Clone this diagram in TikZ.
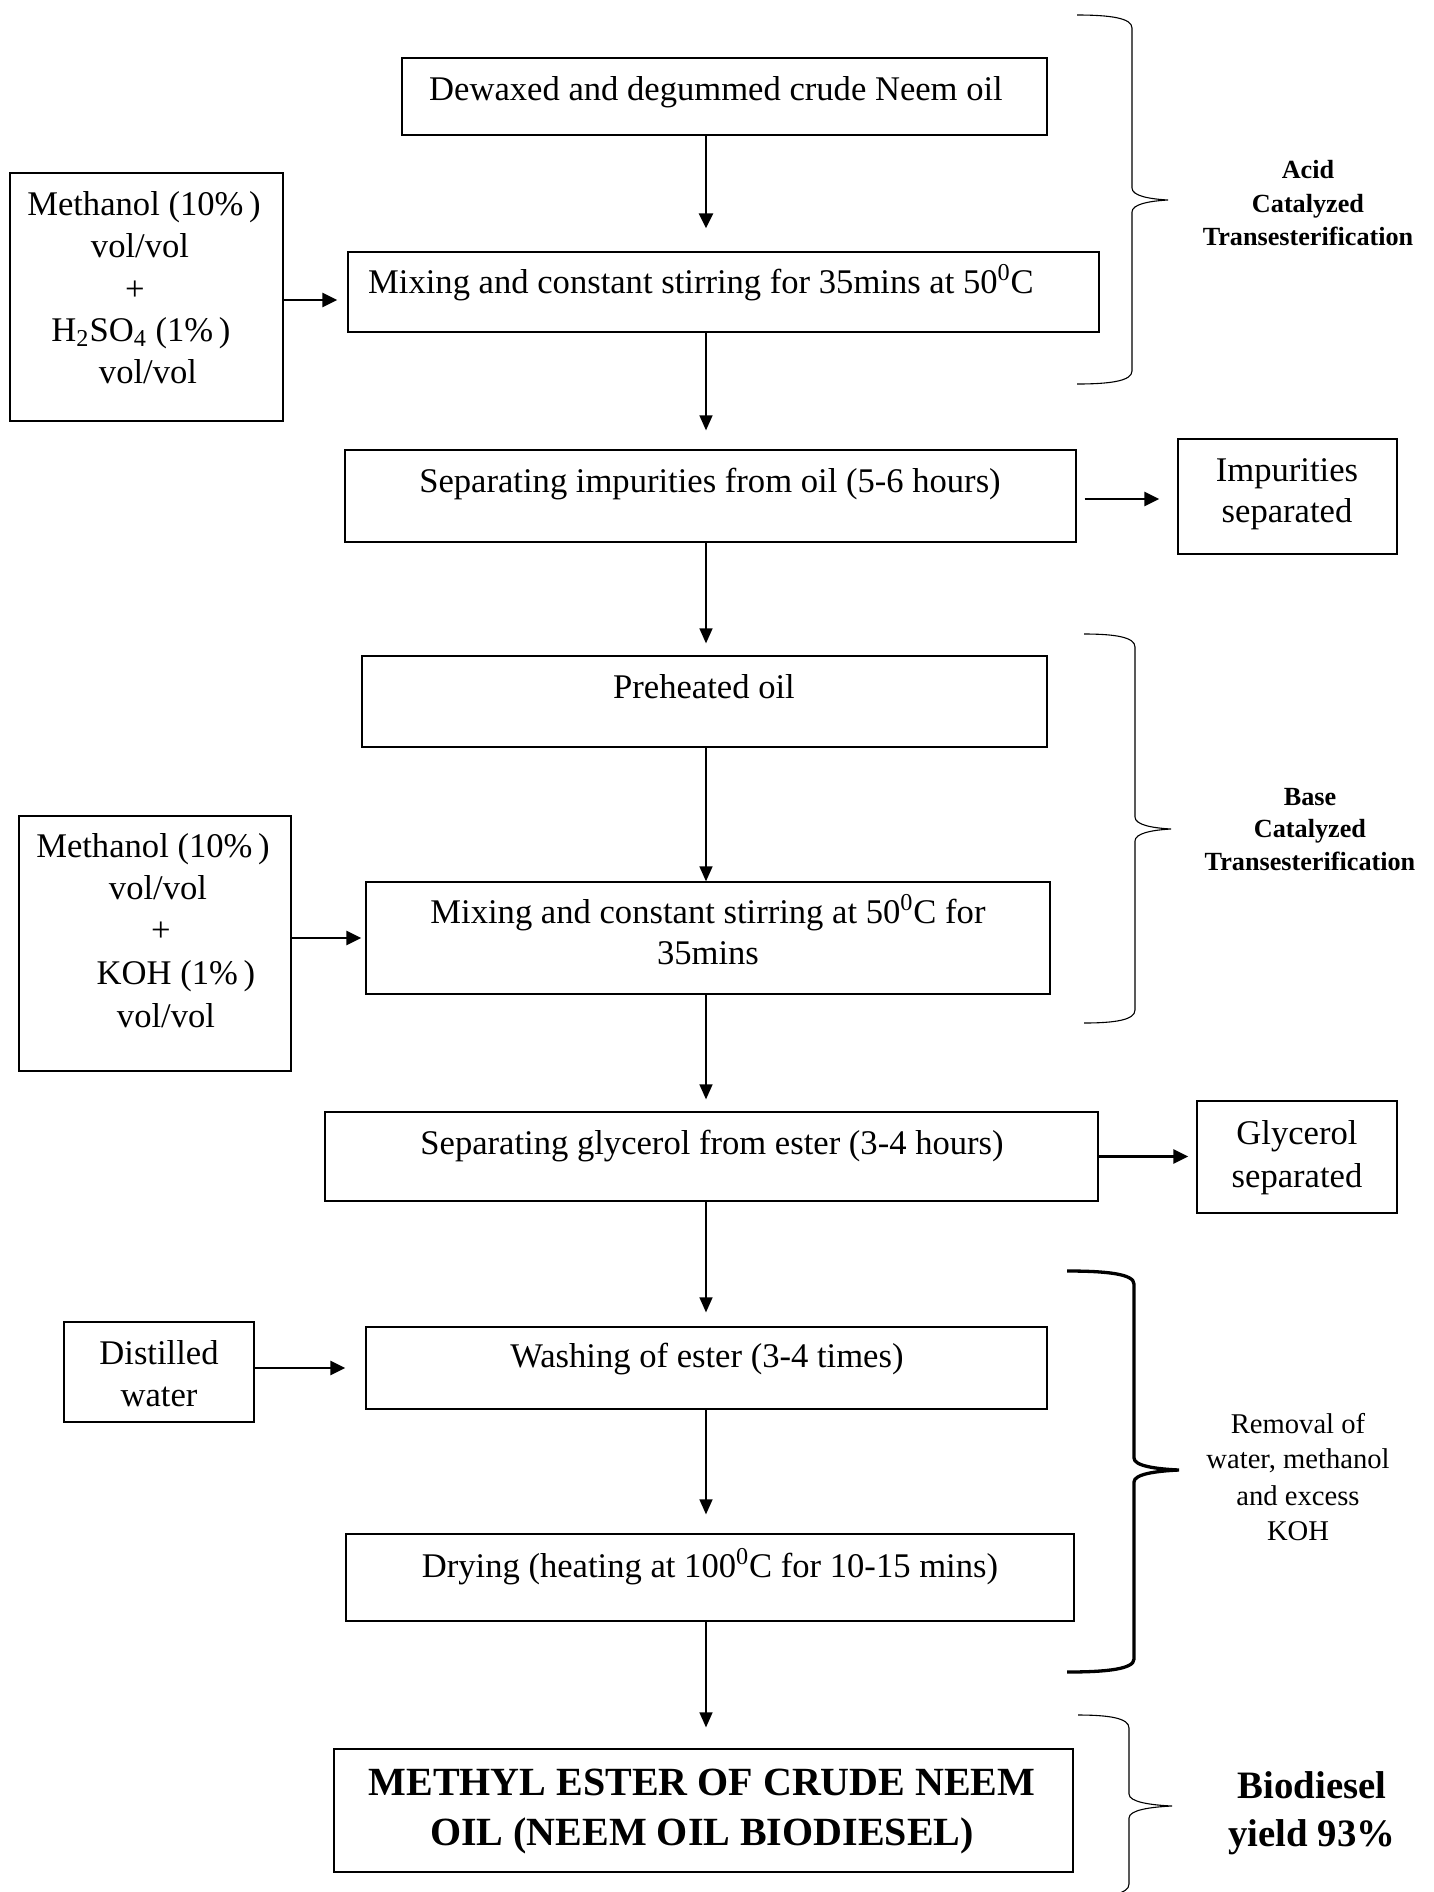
\documentclass[tikz,border=0pt]{standalone}
\usepackage{fontspec}
\setmainfont{Liberation Serif}
\usetikzlibrary{arrows.meta,fit}
\newcommand\mybrace[7]{%
 \draw[#1] (#2,#5) .. controls ({#2+0.6*(#3-#2)},#5) and (#3,#5+3) .. (#3,#5+13)
   -- (#3,#6-12) .. controls (#3,#6-4) and ({#3+0.5*(#4-#3)},#6-1) .. (#4,#6)
   .. controls ({#3+0.5*(#4-#3)},#6+1) and (#3,#6+4) .. (#3,#6+12)
   -- (#3,#7-13) .. controls (#3,#7-3) and ({#2+0.6*(#3-#2)},#7) .. (#2,#7);}
\begin{document}
\begin{tikzpicture}[x=0.5pt,y=-0.5pt,
  box/.style={draw, line width=0.65pt, inner sep=0pt},
  txt/.style={anchor=base, inner sep=0pt, font=\fontsize{17.3}{21}\selectfont},
  lab/.style={anchor=base, inner sep=0pt, font=\fontsize{13.1}{16}\selectfont\bfseries},
  rem/.style={anchor=base, inner sep=0pt, font=\fontsize{14.3}{18}\selectfont},
  bigfont/.style={anchor=base, inner sep=0pt, font=\fontsize{19.4}{24}\selectfont\bfseries},
  finfont/.style={anchor=base, inner sep=0pt, font=\fontsize{20}{25}\selectfont\bfseries},
  arrthin/.style={line width=0.7pt, -{Triangle[length=7.5pt,width=6.5pt]}},
  arrthick/.style={line width=1.35pt, -{Triangle[length=7.5pt,width=7pt]}},
  brace/.style={line width=0.55pt},
  bbrace/.style={line width=1.65pt},
]
\useasboundingbox (0,0) rectangle (1434,1892);

% boxes
\node[box, fit={(402,58)(1047,135)}] (dew) {};
\node[box, fit={(10,173)(283,421)}] (meth1) {};
\node[box, fit={(348,252)(1099,332)}] (mix1) {};
\node[box, fit={(345,450)(1076,542)}] (sep1) {};
\node[box, fit={(1178,439)(1397,554)}] (imp) {};
\node[box, fit={(362,656)(1047,747)}] (pre) {};
\node[box, fit={(19,816)(291,1071)}] (meth2) {};
\node[box, fit={(366,882)(1050,994)}] (mix2) {};
\node[box, fit={(325,1112)(1098,1201)}] (sepg) {};
\node[box, fit={(1197,1101)(1397,1213)}] (gly) {};
\node[box, fit={(64,1322)(254,1422)}] (dist) {};
\node[box, fit={(366,1327)(1047,1409)}] (wash) {};
\node[box, fit={(346,1534)(1074,1621)}] (dry) {};
\node[box, fit={(334,1749)(1073,1872)}] (fin) {};

% texts
\node[txt] (t-dew) at (716,100) {Dewaxed and degummed crude Neem oil};
\node[txt] (t-m1a) at (144,215) {Methanol (10\%\,)};
\node[txt] (t-m1b) at (140,257) {vol/vol};
\node[txt] (t-m1c) at (135,300) {+};
\node[txt] (t-m1d) at (141,341) {H\textsubscript{2}SO\textsubscript{4} (1\%\,)};
\node[txt] (t-m1e) at (148,383) {vol/vol};
\node[txt] (t-mix1) at (701,293) {Mixing and constant stirring for 35mins at 50\textsuperscript{0}C};
\node[txt] (t-sep1) at (710,492) {Separating impurities from oil (5-6 hours)};
\node[txt] (t-imp1) at (1287,481) {Impurities};
\node[txt] (t-imp2) at (1287,522) {separated};
\node[txt] (t-pre) at (704,698) {Preheated oil};
\node[txt] (t-m2a) at (153,857) {Methanol (10\%\,)};
\node[txt] (t-m2b) at (158,899) {vol/vol};
\node[txt] (t-m2c) at (161,941) {+};
\node[txt] (t-m2d) at (176,984) {KOH (1\%\,)};
\node[txt] (t-m2e) at (166,1027) {vol/vol};
\node[txt] (t-mix2a) at (708,923) {Mixing and constant stirring at 50\textsuperscript{0}C for};
\node[txt] (t-mix2b) at (708,964) {35mins};
\node[txt] (t-sepg) at (712,1154) {Separating glycerol from ester (3-4 hours)};
\node[txt] (t-gly1) at (1297,1144) {Glycerol};
\node[txt] (t-gly2) at (1297,1187) {separated};
\node[txt] (t-dist1) at (159,1364) {Distilled};
\node[txt] (t-dist2) at (159,1406) {water};
\node[txt] (t-wash) at (707,1367) {Washing of ester (3-4 times)};
\node[txt] (t-dry) at (710,1577) {Drying (heating at 100\textsuperscript{0}C for 10-15 mins)};
\node[finfont] (t-fin1) at (702,1795) {METHYL ESTER OF CRUDE NEEM};
\node[finfont] (t-fin2) at (702,1845) {OIL (NEEM OIL BIODIESEL)};

% right labels
\node[lab] (l-a1) at (1308,178) {Acid};
\node[lab] (l-a2) at (1308,212) {Catalyzed};
\node[lab] (l-a3) at (1308,245) {Transesterification};
\node[lab] (l-b1) at (1310,805) {Base};
\node[lab] (l-b2) at (1310,837) {Catalyzed};
\node[lab] (l-b3) at (1310,870) {Transesterification};
\node[rem] (l-r1) at (1298,1433) {Removal of};
\node[rem] (l-r2) at (1298,1468) {water, methanol};
\node[rem] (l-r3) at (1298,1505) {and excess};
\node[rem] (l-r4) at (1298,1540) {KOH};
\node[bigfont] (l-y1) at (1312,1798) {Biodiesel};
\node[bigfont] (l-y2) at (1312,1846) {yield 93\%};

% braces
\mybrace{brace}{1077}{1132}{1168}{15}{200}{384}
\mybrace{brace}{1084}{1135}{1171}{634}{829}{1023}
\mybrace{bbrace}{1067}{1134}{1179}{1271}{1470}{1672}
\mybrace{brace}{1078}{1129}{1172}{1715}{1806}{1897}

% connectors
\coordinate (cx) at (706,0);
\draw[arrthick, shorten >=11.5pt] (dew.south -| cx) -- (mix1.north -| cx);
\draw[arrthin, shorten >=9.5pt] (mix1.south -| cx) -- (sep1.north -| cx);
\draw[arrthin, shorten >=6pt] (sep1.south -| cx) -- (pre.north -| cx);
\draw[arrthin] (pre.south -| cx) -- (mix2.north -| cx);
\draw[arrthin, shorten >=6pt] (mix2.south -| cx) -- (sepg.north -| cx);
\draw[arrthin, shorten >=7pt] (sepg.south -| cx) -- (wash.north -| cx);
\draw[arrthin, shorten >=9.5pt] (wash.south -| cx) -- (dry.north -| cx);
\draw[arrthin, shorten >=10.5pt] (dry.south -| cx) -- (fin.north -| cx);

\draw[arrthick, shorten >=5pt] ([yshift=-1.5pt]meth1.east) -- ([yshift=-1.5pt]meth1.east -| mix1.west);
\draw[arrthick, shorten <=4pt, shorten >=9pt] ([yshift=-1.5pt]sep1.east) -- ([yshift=-1.5pt]sep1.east -| imp.west);
\draw[arrthick, shorten >=2pt] (meth2.east |- mix2.west) -- (mix2.west);
\draw[arrthick, shorten >=4pt] (sepg.east) -- (sepg.east -| gly.west);
\draw[arrthick, shorten >=10pt] (dist.east |- wash.west) -- (wash.west);
\end{tikzpicture}
\end{document}
